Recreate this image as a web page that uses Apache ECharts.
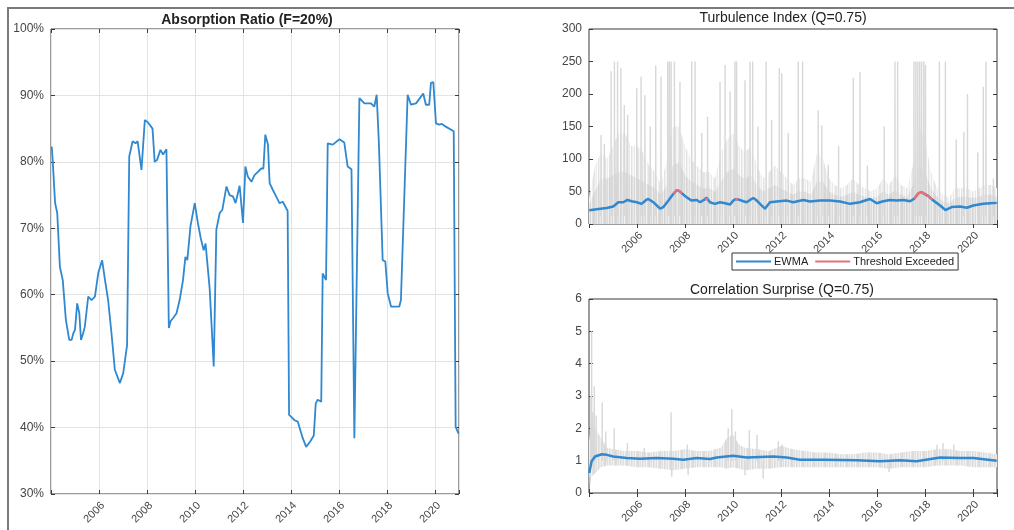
<!DOCTYPE html>
<html>
<head>
<meta charset="utf-8">
<script src="https://cdn.jsdelivr.net/npm/echarts@6/dist/echarts.min.js"></script>
<style>
html,body{margin:0;padding:0;background:#fff;}
#chart{width:1014px;height:530px;}
</style>
</head>
<body>
<div id="chart"></div>
<script>
const FONT = '"Liberation Sans", Arial, Helvetica, sans-serif';

// ---- tick labels ----
const xTickYears = [2006, 2008, 2010, 2012, 2014, 2016, 2018, 2020];

// ---- Absorption Ratio (F=20%) ----
const arYears = [2004.03,2004.07,2004.17,2004.26,2004.37,2004.49,2004.62,2004.76,2004.86,2004.93,
  2005.00,2005.09,2005.18,2005.25,2005.34,2005.41,2005.55,2005.69,2005.83,2005.97,
  2006.13,2006.25,2006.38,2006.52,2006.66,2006.87,2007.01,2007.17,2007.26,2007.40,
  2007.52,2007.61,2007.77,2007.91,2008.05,2008.23,2008.32,2008.42,2008.56,2008.67,
  2008.81,2008.91,2008.98,2009.09,2009.23,2009.36,2009.50,2009.60,2009.68,2009.81,
  2009.99,2010.12,2010.24,2010.36,2010.44,2010.61,2010.68,2010.78,2010.89,2011.03,
  2011.14,2011.31,2011.44,2011.58,2011.69,2011.86,2012.00,2012.10,2012.20,2012.35,
  2012.48,2012.62,2012.76,2012.85,2012.93,2013.04,2013.11,2013.24,2013.38,2013.52,
  2013.66,2013.86,2013.92,2014.01,2014.15,2014.28,2014.35,2014.49,2014.63,2014.80,
  2014.95,2015.03,2015.11,2015.26,2015.32,2015.46,2015.53,2015.74,2016.02,2016.22,
  2016.36,2016.52,2016.64,2016.71,2016.85,2017.06,2017.33,2017.47,2017.57,2017.66,
  2017.82,2017.93,2018.03,2018.17,2018.51,2018.58,2018.86,2019.00,2019.21,2019.51,
  2019.62,2019.76,2019.83,2019.93,2020.04,2020.17,2020.29,2020.45,2020.78,2020.86,2020.98];
const arValues = [82.3,80.3,73.8,72.3,64.2,62.2,56.2,53.2,53.2,54.2,
  54.7,58.7,57.2,53.2,54.2,55.2,59.7,59.2,59.7,63.3,
  65.2,62.2,59.2,54.2,48.7,46.7,48.2,52.4,80.8,83.1,
  82.8,83.1,78.8,86.3,85.9,85.0,80.0,80.3,81.8,81.1,
  81.9,55.0,56.0,56.5,57.2,59.2,62.2,65.7,65.2,70.3,
  73.8,70.8,68.5,66.7,67.7,61.0,60.7,49.2,69.8,72.3,
  72.8,76.3,75.0,74.8,73.8,76.4,70.8,79.3,77.8,77.0,
  78.0,78.5,79.0,79.0,84.1,82.6,76.8,75.8,74.8,73.8,
  74.0,72.6,41.9,41.6,41.1,40.9,40.9,38.4,37.1,37.9,
  38.8,43.6,44.2,43.9,63.2,62.2,82.8,82.6,83.4,82.9,
  79.3,78.9,38.4,38.4,89.6,88.8,88.8,88.3,90.1,83.0,
  65.2,65.0,60.2,58.2,58.2,59.2,90.1,88.6,88.8,90.3,
  88.6,88.6,91.9,92.0,85.8,85.6,85.7,85.3,84.6,40.1,39.1];

// ---- Turbulence Index (Q=0.75) ----
const turbEwmaYears = [2004.01,2004.40,2004.74,2005.01,2005.22,2005.43,2005.60,2005.78,2005.99,2006.19,
  2006.38,2006.47,2006.68,2006.96,2007.10,2007.31,2007.51,2007.55,2007.65,2007.75,
  2007.88,2008.07,2008.28,2008.49,2008.63,2008.79,2008.83,2008.90,2008.96,2009.04,
  2009.25,2009.46,2009.67,2009.88,2010.01,2010.10,2010.15,2010.21,2010.29,2010.43,
  2010.57,2010.71,2010.85,2010.99,2011.19,2011.33,2011.54,2011.82,2012.24,2012.51,
  2012.93,2013.21,2013.63,2014.04,2014.46,2014.88,2015.29,2015.57,2015.71,2015.99,
  2016.26,2016.54,2016.82,2017.10,2017.38,2017.55,2017.72,2017.85,2017.93,2018.14,
  2018.30,2018.35,2018.63,2018.85,2019.11,2019.46,2019.74,2020.01,2020.43,2020.71,2020.99];
const turbEwmaValues = [21,23,24.5,27,33.5,33.5,37,35,33.5,31,
  37,38.5,33.5,23.5,26,36,46,48,52,51,
  47,41,36,37,33.5,37,38,40.5,38,33.5,
  31,33.5,32,30,36,38,40.5,38,36,35,
  33.5,37,40,36,28.5,23.5,33.5,34.5,36,33.5,
  37,34.5,36,36,34.5,31,33.5,37,38.5,32,
  35,37,36,37,35,39,47,49,48,43,
  37.5,36,28.5,21.5,26,27,25,28.5,31,32,32.5];
// threshold exceeded segments (null = break)
const turbExcYears = [2007.51,2007.55,2007.65,2007.75,2007.88,2007.9,
  2008.83,2008.90,2008.96,2009.0,
  2010.10,2010.15,2010.21,2010.25,
  2017.55,2017.72,2017.85,2017.93,2018.14,2018.30];
const turbExcValues = [46,48,52,51,47,null,
  38,40.5,38,null,
  38,40.5,38,null,
  39,47,49,48,43,37.5];
// raw index: sampling years for envelopes
const turbBandYears = [2004.00,2004.25,2004.50,2004.75,2005.00,2005.25,2005.50,2005.75,2006.00,2006.25,
  2006.50,2006.75,2007.00,2007.25,2007.50,2007.75,2008.00,2008.25,2008.50,2008.75,
  2009.00,2009.25,2009.50,2009.75,2010.00,2010.25,2010.50,2010.75,2011.00,2011.25,
  2011.50,2011.75,2012.00,2012.25,2012.50,2012.75,2013.00,2013.25,2013.50,2013.75,
  2014.00,2014.25,2014.50,2014.75,2015.00,2015.25,2015.50,2015.75,2016.00,2016.25,
  2016.50,2016.75,2017.00,2017.25,2017.50,2017.75,2018.00,2018.25,2018.50,2018.75,
  2019.00,2019.25,2019.50,2019.75,2020.00,2020.25,2020.50,2020.75,2021.00];
// outer (haze) envelope of raw index
const turbBandTop = [40,90,110,100,120,140,140,120,120,110,
  90,80,60,100,150,150,120,100,90,80,
  80,70,110,130,140,120,110,120,90,70,
  80,90,80,70,60,70,70,65,110,100,
  70,60,55,60,70,60,55,50,55,70,
  60,75,60,55,90,150,130,80,55,45,
  40,55,55,55,50,55,60,60,55];
// dense core envelope of raw index
const turbCoreTop = [30,50,70,70,75,80,80,75,70,65,
  60,55,45,60,90,95,75,65,60,55,
  55,50,65,80,85,75,70,75,60,50,
  55,60,55,50,45,50,50,45,65,65,
  50,45,42,45,50,45,42,40,42,50,
  45,52,45,42,60,90,80,55,42,35,
  32,40,42,42,40,42,45,45,42];
// isolated raw spikes
const turbSpikeYears = [2004.50,2004.64,2004.92,2005.06,2005.19,2005.33,2005.47,2005.61,2005.99,2006.17,
  2006.33,2006.55,2006.78,2007.00,2007.28,2007.35,2007.42,2007.56,2007.79,2008.28,
  2008.42,2008.70,2008.94,2009.46,2009.67,2009.88,2010.08,2010.15,2010.50,2010.71,
  2010.82,2011.04,2011.38,2011.61,2011.93,2012.03,2012.30,2012.72,2012.90,2013.55,
  2013.70,2013.97,2014.40,2015.01,2015.29,2015.60,2016.30,2016.75,2016.86,2017.54,
  2017.62,2017.70,2017.78,2017.86,2017.95,2018.02,2018.60,2018.85,2019.30,2019.62,
  2019.77,2020.20,2020.43,2020.54,2020.85];
const turbSpikeTops = [137,123,235,250,250,240,183,168,209,227,
  198,150,244,227,250,250,250,250,219,250,
  250,140,165,219,245,204,250,250,221,250,
  250,150,250,160,240,232,140,250,250,175,
  152,91,120,225,234,90,150,250,250,250,
  250,250,250,250,250,245,250,250,130,142,
  200,110,211,250,70];

// ---- Correlation Surprise (Q=0.75) ----
const csEwmaYears = [2004.01,2004.11,2004.25,2004.53,2004.74,2005.01,2005.57,2006.13,2006.82,2007.51,
  2007.93,2008.49,2009.04,2009.32,2010.01,2010.57,2011.68,2012.24,2012.79,2013.76,
  2015.15,2016.13,2016.96,2017.65,2018.63,2019.46,2020.01,2020.99];
const csEwmaValues = [0.62,0.98,1.13,1.20,1.18,1.13,1.08,1.06,1.08,1.06,
  1.03,1.08,1.05,1.10,1.15,1.10,1.13,1.10,1.03,1.03,
  1.01,0.98,1.01,0.98,1.10,1.08,1.08,1.00];
const csBandYears = [2004.00,2004.10,2004.25,2004.50,2004.75,2005.00,2005.50,2006.00,2006.50,2007.00,
  2007.50,2008.00,2008.50,2009.00,2009.50,2009.75,2010.00,2010.25,2010.50,2011.00,
  2011.50,2012.00,2012.50,2013.00,2013.50,2014.00,2014.50,2015.00,2015.50,2016.00,
  2016.50,2017.00,2017.50,2018.00,2018.50,2019.00,2019.50,2020.00,2020.50,2021.00];
const csBandLow = [0.5,0.5,0.6,0.8,0.85,0.85,0.85,0.8,0.8,0.75,
  0.7,0.75,0.8,0.8,0.8,0.75,0.8,0.75,0.7,0.75,
  0.75,0.8,0.8,0.8,0.8,0.8,0.8,0.8,0.8,0.8,
  0.75,0.8,0.8,0.8,0.85,0.85,0.85,0.8,0.8,0.8];
const csBandHigh = [1.6,2.2,2.0,1.7,1.4,1.35,1.3,1.3,1.25,1.3,
  1.3,1.35,1.3,1.3,1.4,1.7,1.8,1.5,1.4,1.35,
  1.3,1.45,1.35,1.3,1.25,1.25,1.2,1.2,1.25,1.25,
  1.2,1.25,1.3,1.3,1.35,1.35,1.3,1.3,1.25,1.2];
const csSpikeYears = [2004.08,2004.11,2004.15,2004.22,2004.30,2004.55,2004.70,2005.05,2005.60,2006.30,
  2007.42,2008.10,2009.80,2009.95,2010.10,2010.68,2011.00,2011.89,2012.05,2018.50,2018.75,2019.20,
  2004.05,2007.45,2008.13,2010.50,2011.26,2016.50];
const csSpikeValues = [3.0,5.0,2.5,3.3,2.4,2.8,1.9,2.0,1.55,1.4,
  2.5,1.5,2.0,2.6,1.9,1.95,1.8,1.6,1.5,1.5,1.55,1.5,
  0.3,0.5,0.55,0.55,0.45,0.65];

// ---- legend ----
const legendNames = ['EWMA', 'Threshold Exceeded'];

// ---------------- helpers ----------------
function pairs(xs, ys) { return xs.map((x, i) => [x, ys[i]]); }
function spikeLines(xs, ys, base) {
  const out = [];
  xs.forEach((x, i) => {
    out.push([x - 0.004, base], [x, ys[i]], [x + 0.004, base], [x + 0.005, null]);
  });
  return out;
}
// striped fill patterns imitating dense thin gray lines (style only)
function makePattern(cols) {
  const c = document.createElement('canvas');
  c.width = cols.length; c.height = 1;
  const ctx = c.getContext('2d');
  cols.forEach((col, i) => { ctx.fillStyle = col; ctx.fillRect(i, 0, 1, 1); });
  return { image: c, repeat: 'repeat' };
}
const hazeFill = makePattern(['#e6e6e6','#f5f5f5','#ececec','#fcfcfc','#e2e2e2','#f2f2f2','#f8f8f8','#e9e9e9','#fdfdfd','#efefef','#e4e4e4']);
const coreFill = makePattern(['#d6d6d6','#e3e3e3','#dadada','#eeeeee','#d3d3d3','#e0e0e0','#e9e9e9','#d8d8d8','#f1f1f1','#dddddd','#d5d5d5']);
const csFill   = makePattern(['#dcdcdc','#e8e8e8','#e0e0e0','#f2f2f2','#dadada','#e6e6e6','#eeeeee','#dedede','#f4f4f4','#e2e2e2','#dbdbdb']);

const BLUE = '#2f88d0';
const RED = '#e6707c';
const GRAY = '#d8d8d8';
const BOX = '#3b3b3b';
const LABEL = '#454545';

const gridBase = { show: true, borderColor: BOX, borderWidth: 1, backgroundColor: '#fff', containLabel: false, outerBoundsMode: 'none' };
const grids = [
  Object.assign({ left: 51, top: 29, width: 408, height: 465 }, gridBase),
  Object.assign({ left: 589, top: 29, width: 408, height: 195 }, gridBase),
  Object.assign({ left: 589, top: 299, width: 408, height: 194 }, gridBase)
];

function xAxes(gi, withGrid) {
  const common = {
    type: 'value', gridIndex: gi, min: 2004, max: 2021, interval: 2,
    axisLine: { show: false },
    axisTick: { show: true, inside: true, length: 4, lineStyle: { color: BOX } },
    splitLine: { show: false }
  };
  return [
    Object.assign({}, common, {
      position: 'bottom',
      axisLabel: {
        show: true, rotate: 45, align: 'right', verticalAlign: 'top', margin: 6,
        fontSize: 11, fontFamily: FONT, color: LABEL,
        formatter: v => (xTickYears.indexOf(v) >= 0 ? String(v) : '')
      },
      splitLine: { show: withGrid, lineStyle: { color: '#e3e3e3', width: 1 } }
    }),
    Object.assign({}, common, { position: 'top', axisLabel: { show: false } })
  ];
}
function yAxes(gi, min, max, interval, fmt, withGrid) {
  const common = {
    type: 'value', gridIndex: gi, min: min, max: max, interval: interval,
    axisLine: { show: false },
    axisTick: { show: true, inside: true, length: 4, lineStyle: { color: BOX } },
    splitLine: { show: false }
  };
  return [
    Object.assign({}, common, {
      position: 'left',
      axisLabel: { show: true, margin: 7, fontSize: 12, fontFamily: FONT, color: LABEL, formatter: fmt },
      splitLine: { show: withGrid, lineStyle: { color: '#e3e3e3', width: 1 } }
    }),
    Object.assign({}, common, { position: 'right', axisLabel: { show: false } })
  ];
}

const option = {
  animation: false,
  backgroundColor: '#fff',
  grid: grids,
  xAxis: [].concat(xAxes(0, true), xAxes(1, false), xAxes(2, false)),
  yAxis: [].concat(
    yAxes(0, 30, 100, 10, '{value}%', true),
    yAxes(1, 0, 300, 50, '{value}', false),
    yAxes(2, 0, 6, 1, '{value}', false)
  ),
  legend: {
    data: legendNames,
    left: 732, top: 253,
    orient: 'horizontal',
    icon: 'rect', itemWidth: 35, itemHeight: 2, itemGap: 7,
    padding: [3, 4],
    borderColor: '#333', borderWidth: 1, backgroundColor: '#fff',
    textStyle: { fontSize: 11, fontFamily: FONT, color: '#222', padding: [0, 0, 0, -2] },
    selectedMode: false
  },
  series: [
    {
      name: 'Absorption Ratio', type: 'line', xAxisIndex: 0, yAxisIndex: 0,
      data: pairs(arYears, arValues), showSymbol: false, symbol: 'none',
      lineStyle: { color: BLUE, width: 1.8 }, itemStyle: { color: BLUE }, z: 5
    },
    {
      name: 'turb-haze', type: 'line', xAxisIndex: 2, yAxisIndex: 2,
      data: pairs(turbBandYears, turbBandTop), showSymbol: false, symbol: 'none', silent: true,
      lineStyle: { width: 0, opacity: 0 },
      areaStyle: { opacity: 1, color: hazeFill },
      z: 1
    },
    {
      name: 'turb-core', type: 'line', xAxisIndex: 2, yAxisIndex: 2,
      data: pairs(turbBandYears, turbCoreTop), showSymbol: false, symbol: 'none', silent: true,
      lineStyle: { width: 0, opacity: 0 },
      areaStyle: { opacity: 1, color: coreFill },
      z: 1
    },
    {
      name: 'turb-raw', type: 'line', xAxisIndex: 2, yAxisIndex: 2,
      data: spikeLines(turbSpikeYears, turbSpikeTops, 12), showSymbol: false, symbol: 'none', silent: true,
      connectNulls: false, lineStyle: { color: GRAY, width: 1.4 }, z: 2
    },
    {
      name: 'EWMA', type: 'line', xAxisIndex: 2, yAxisIndex: 2,
      data: pairs(turbEwmaYears, turbEwmaValues), showSymbol: false, symbol: 'none',
      lineStyle: { color: BLUE, width: 2.5 }, itemStyle: { color: BLUE }, z: 5
    },
    {
      name: 'Threshold Exceeded', type: 'line', xAxisIndex: 2, yAxisIndex: 2,
      data: pairs(turbExcYears, turbExcValues), showSymbol: false, symbol: 'none', connectNulls: false,
      lineStyle: { color: RED, width: 2.5 }, itemStyle: { color: RED }, z: 6
    },
    {
      name: 'cs-band', type: 'custom', xAxisIndex: 4, yAxisIndex: 4, silent: true, z: 1,
      data: [[csBandYears[0], csBandLow[0]]],
      renderItem: function (params, api) {
        const pts = [];
        for (let i = 0; i < csBandYears.length; i++) pts.push(api.coord([csBandYears[i], csBandHigh[i]]));
        for (let i = csBandYears.length - 1; i >= 0; i--) pts.push(api.coord([csBandYears[i], csBandLow[i]]));
        return { type: 'polygon', shape: { points: pts }, style: { fill: csFill, stroke: null } };
      }
    },
    {
      name: 'cs-raw', type: 'line', xAxisIndex: 4, yAxisIndex: 4,
      data: spikeLines(csSpikeYears, csSpikeValues, 1.0), showSymbol: false, symbol: 'none', silent: true,
      connectNulls: false, lineStyle: { color: GRAY, width: 1.4 }, z: 2
    },
    {
      name: 'CS EWMA', type: 'line', xAxisIndex: 4, yAxisIndex: 4,
      data: pairs(csEwmaYears, csEwmaValues), showSymbol: false, symbol: 'none',
      lineStyle: { color: BLUE, width: 2.5 }, itemStyle: { color: BLUE }, z: 5
    }
  ],
  graphic: [
    { type: 'polyline', silent: true, shape: { points: [[8, 530], [8, 8], [1014, 8]] },
      style: { stroke: '#7b7b7b', lineWidth: 2, fill: null } },
    { type: 'text', silent: true, x: 247, y: 20,
      style: { text: 'Absorption Ratio (F=20%)', fontSize: 14, fontWeight: 'bold', fontFamily: FONT, fill: '#222', align: 'center', verticalAlign: 'middle' } },
    { type: 'text', silent: true, x: 783, y: 18,
      style: { text: 'Turbulence Index (Q=0.75)', fontSize: 14, fontFamily: FONT, fill: '#222', align: 'center', verticalAlign: 'middle' } },
    { type: 'text', silent: true, x: 782, y: 290,
      style: { text: 'Correlation Surprise (Q=0.75)', fontSize: 14, fontFamily: FONT, fill: '#222', align: 'center', verticalAlign: 'middle' } }
  ]
};

const chart = echarts.init(document.getElementById('chart'), null, { renderer: 'canvas' });
chart.setOption(option);
</script>
</body>
</html>
